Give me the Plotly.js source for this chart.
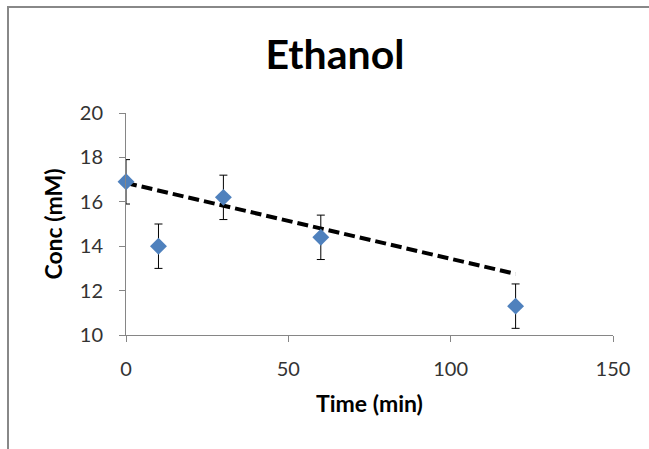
<!DOCTYPE html>
<html>
<head>
<meta charset="utf-8">
<script src="https://cdn.plot.ly/plotly-3.0.1.min.js"></script>
<style>
  html, body { margin: 0; padding: 0; background: #fff; }
  #chart { width: 649px; height: 449px; }
</style>
</head>
<body>
<div id="chart"></div>
<script>
// Data
const timeMin = [0, 10, 30, 60, 120];
const concMM = [16.9, 14.0, 16.2, 14.4, 11.3];
const concErr = [1.0, 1.0, 1.0, 1.0, 1.0];
const trendX = [0, 120];
const trendY = [16.85, 12.75];
const xTicks = [0, 50, 100, 150];
const yTicks = [10, 12, 14, 16, 18, 20];

const tickFont = { family: 'Lato, "Liberation Sans", sans-serif', size: 20, color: '#333333' };
const titleFont = { family: 'Lato, "Liberation Sans", sans-serif', size: 23, color: '#000', weight: 'bold' };

const traces = [
  {
    x: trendX, y: trendY, type: 'scatter', mode: 'lines',
    line: { color: '#000', width: 4, dash: '11px,5px' },
    hoverinfo: 'skip', showlegend: false, cliponaxis: false
  },
  {
    x: timeMin, y: concMM, type: 'scatter', mode: 'markers',
    marker: { symbol: 'diamond', size: 13, color: '#4F81BD' },
    error_y: { type: 'data', array: concErr, visible: true, color: '#000', thickness: 1, width: 4 },
    showlegend: false, cliponaxis: false
  }
];

const L = 126, R = 613, T = 113, B = 335;
const W = 649, H = 449;
const px2x = p => (p - L) / (R - L);
const px2y = p => (B - p) / (B - T);

const layout = {
  width: W, height: H,
  margin: { l: L, r: W - R, t: T, b: H - B, pad: 0 },
  paper_bgcolor: '#fff', plot_bgcolor: '#fff',
  title: {
    text: 'Ethanol',
    font: { family: 'Lato, "Liberation Sans", sans-serif', size: 41, color: '#000', weight: 'bold' },
    x: 335 / W, xanchor: 'center', xref: 'container',
    y: 1 - 55 / H, yanchor: 'middle', yref: 'container'
  },
  xaxis: {
    range: [0, 150], tickvals: xTicks, ticktext: xTicks.map(String),
    showgrid: false, zeroline: false, showline: true, linecolor: '#868686', linewidth: 1,
    ticks: 'outside', ticklen: 6, tickcolor: '#868686', tickwidth: 1,
    tickfont: tickFont, ticklabelstandoff: 10,
    title: { text: 'Time (min)', font: titleFont, standoff: 16 }
  },
  yaxis: {
    range: [10, 20], tickvals: yTicks, ticktext: yTicks.map(String),
    showgrid: false, zeroline: false, showline: true, linecolor: '#868686', linewidth: 1,
    ticks: 'outside', ticklen: 6, tickcolor: '#868686', tickwidth: 1,
    tickfont: tickFont, ticklabelstandoff: 12,
    title: { text: 'Conc (mM)', font: titleFont, standoff: 10 }
  },
  shapes: [
    {
      type: 'rect', xref: 'paper', yref: 'paper',
      x0: px2x(8), x1: px2x(720), y0: px2y(520), y1: px2y(7),
      line: { color: '#888888', width: 2 }, fillcolor: 'rgba(0,0,0,0)', layer: 'below'
    }
  ],
  showlegend: false
};

Plotly.newPlot('chart', traces, layout, { displayModeBar: false, staticPlot: true });
</script>
</body>
</html>
